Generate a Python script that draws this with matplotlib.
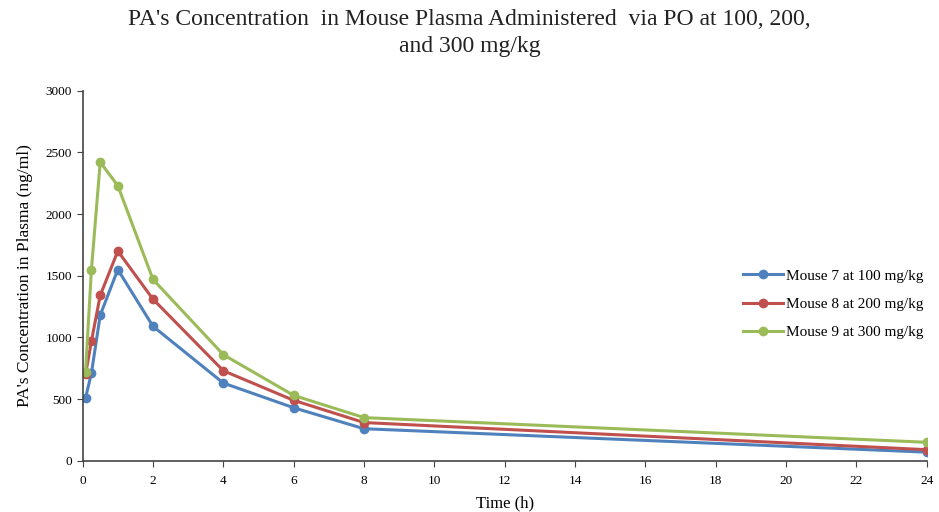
import matplotlib
matplotlib.use('Agg')
import matplotlib.pyplot as plt

# sampling times (h) and concentrations (ng/ml)
time_h = [0.083, 0.25, 0.5, 1, 2, 4, 6, 8, 24]
mouse7 = [510, 710, 1180, 1550, 1090, 630, 430, 260, 70]
mouse8 = [700, 970, 1340, 1700, 1310, 730, 490, 310, 90]
mouse9 = [720, 1550, 2420, 2230, 1470, 860, 530, 350, 150]
labels = ["Mouse 7 at 100 mg/kg", "Mouse 8 at 200 mg/kg", "Mouse 9 at 300 mg/kg"]
colors = ["#4F81BD", "#C0504D", "#9BBB59"]

plt.rcParams['font.family'] = ['Liberation Serif', 'DejaVu Serif']

fig = plt.figure(figsize=(9.39, 5.12), dpi=100)
ax = fig.add_axes([0.088, 0.10, 0.899, 0.723])

for series, label, color in zip([mouse7, mouse8, mouse9], labels, colors):
    ax.plot(time_h, series, color=color, marker='o', markersize=6,
            linewidth=2.2, label=label)

ax.set_xlim(0, 24)
ax.set_ylim(0, 3000)
ax.set_xticks(range(0, 25, 2))
ax.set_yticks(range(0, 3001, 500))
ax.tick_params(axis='both', labelsize=9.5, direction='out', length=4, color='#444444')
ax.tick_params(axis='x', pad=6)
for side in ['top', 'right']:
    ax.spines[side].set_visible(False)
for side in ['left', 'bottom']:
    ax.spines[side].set_color('#444444')
    ax.spines[side].set_linewidth(1.2)

ax.set_xlabel("Time (h)", fontsize=12, labelpad=6)
ax.set_ylabel("PA's Concentration in Plasma (ng/ml)", fontsize=12.5, labelpad=9)

fig.suptitle("PA's Concentration  in Mouse Plasma Administered  via PO at 100, 200,\nand 300 mg/kg",
             fontsize=17, y=0.982, linespacing=1.35, color='#222222')

ax.legend(loc='center left', bbox_to_anchor=(0.785, 0.406), bbox_transform=fig.transFigure,
          frameon=False, fontsize=11, handlelength=2.6, handletextpad=0.2,
          labelspacing=0.95, borderaxespad=0)

fig.savefig("out.png", dpi=100)
